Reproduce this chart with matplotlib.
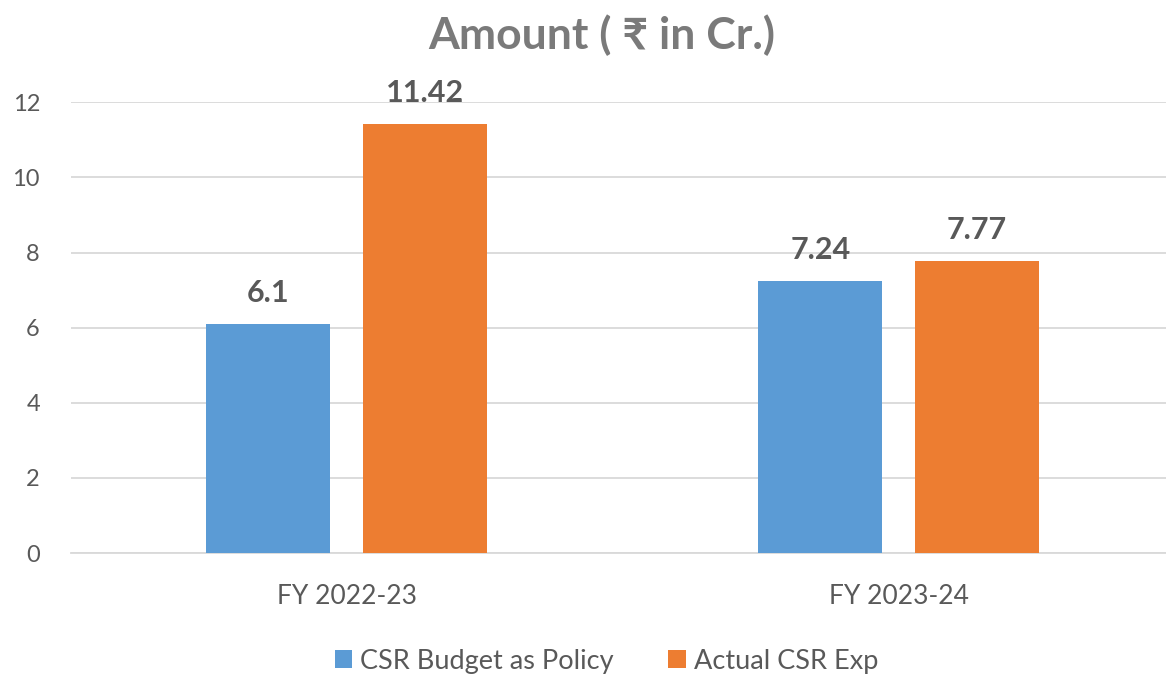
import matplotlib
matplotlib.use("Agg")
import matplotlib.pyplot as plt
import numpy as np

categories = ["FY 2022-23", "FY 2023-24"]
series_names = ["CSR Budget as Policy", "Actual CSR Exp"]
budget = [6.1, 7.24]
actual = [11.42, 7.77]
labels_budget = ["6.1", "7.24"]
labels_actual = ["11.42", "7.77"]
yticks = [0, 2, 4, 6, 8, 10, 12]

plt.rcParams['font.family'] = ['Lato', 'DejaVu Sans']

fig = plt.figure(figsize=(11.66, 6.77), dpi=100)
ax = fig.add_axes([0.0605, 0.183, 0.947, 0.666])

x = np.arange(len(categories))
w = 0.225
off = 0.142
b1 = ax.bar(x - off, budget, w, color="#5B9BD5", label=series_names[0], zorder=3)
b2 = ax.bar(x + off, actual, w, color="#ED7D31", label=series_names[1], zorder=3)

for bars, labs in ((b1, labels_budget), (b2, labels_actual)):
    for r, t in zip(bars, labs):
        ax.annotate(t, (r.get_x() + r.get_width() / 2, r.get_height()),
                    xytext=(0, 12), textcoords="offset points",
                    ha="center", va="bottom", fontsize=22, fontweight="bold",
                    color="#595959")

ax.set_xlim(-0.5, 1.5)
ax.set_ylim(0, 12)
ax.set_yticks(yticks)
ax.set_xticks(x)
ax.set_xticklabels(categories)
ax.tick_params(axis="both", length=0, labelcolor="#595959")
ax.tick_params(axis="y", pad=22, labelsize=17)
ax.tick_params(axis="x", pad=22, labelsize=19)
ax.grid(axis="y", color="#D9D9D9", linewidth=1.3, zorder=0)
for s in ("left", "right", "top"):
    ax.spines[s].set_visible(False)
ax.spines["bottom"].set_color("#D9D9D9")
ax.spines["bottom"].set_linewidth(1.3)

fig.suptitle("Amount ( ₹ in Cr.)", x=0.516, y=0.978, fontsize=32,
             fontweight="bold", color="#7A7A7A")

fig.legend(handles=[b1, b2], labels=series_names, loc="center",
           bbox_to_anchor=(0.52, 0.023), ncol=2, frameon=False,
           fontsize=19.5, labelcolor="#595959", handlelength=0.65,
           handleheight=0.65, handletextpad=0.3, columnspacing=2.0)

fig.savefig("out.png", dpi=100)
